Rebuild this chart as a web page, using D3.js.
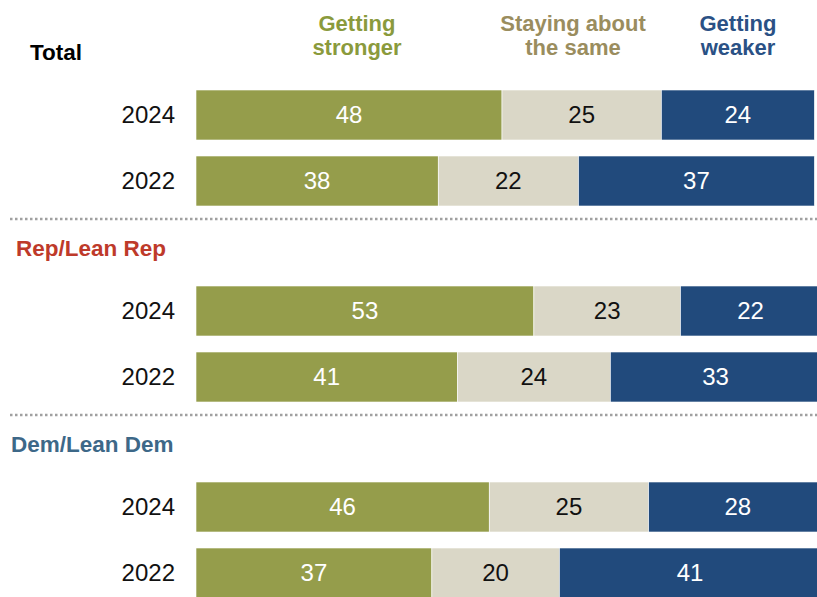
<!DOCTYPE html>
<html>
<head>
<meta charset="utf-8">
<script src="https://cdn.jsdelivr.net/npm/d3@7"></script>
<style>
  html, body { margin: 0; padding: 0; background: #fff; }
  svg { display: block; }
  text { font-family: "Liberation Sans", Arial, sans-serif; }
</style>
</head>
<body>
<svg id="chart" width="817" height="597"></svg>
<script>
// Groups and survey years
const groups = ["Total", "Rep/Lean Rep", "Dem/Lean Dem"];
const years = ["2024", "2022"];

// Response categories (stack order left to right)
const categories = ["Getting stronger", "Staying about the same", "Getting weaker"];
const categoryHeaders = [["Getting", "stronger"], ["Staying about", "the same"], ["Getting", "weaker"]];

// Percentages per group, per year: [stronger, same, weaker]
const totalValues = [[48, 25, 24], [38, 22, 37]];
const repValues = [[53, 23, 22], [41, 24, 33]];
const demValues = [[46, 25, 28], [37, 20, 41]];

const groupValues = [totalValues, repValues, demValues];
const groupColors = ["#000000", "#be3a2a", "#3d6888"];
const fillColors = ["#959d4b", "#dad7c7", "#214a7c"];
const headerColors = ["#8a9a3c", "#9a8d5e", "#2a5185"];
const valueTextColors = ["#ffffff", "#111111", "#ffffff"];

const svg = d3.select("#chart");

const x = d3.scaleLinear().domain([0, 100]).range([196, 196 + 637.5]);
const gy = d3.scalePoint().domain(groups).range([90, 90 + 2 * 196]);
const yy = d3.scaleBand().domain(years).range([0, 116]).paddingInner(0.2424).paddingOuter(0);

// Column headers over the stacked segments
const headerCenters = [357, 573, 738];
categoryHeaders.forEach((lines, i) => {
  const t = svg.append("text")
    .attr("x", headerCenters[i])
    .attr("y", 31)
    .attr("text-anchor", "middle")
    .attr("fill", headerColors[i])
    .style("font-size", "22px")
    .style("font-weight", "bold");
  lines.forEach((ln, j) => {
    t.append("tspan").attr("x", headerCenters[i]).attr("dy", j === 0 ? 0 : 24).text(ln);
  });
});

groups.forEach((g, gi) => {
  const top = gy(g);
  const gSel = svg.append("g");

  // Group title
  gSel.append("text")
    .attr("x", gi === 0 ? 30 : (gi === 1 ? 16 : 11))
    .attr("y", top - 30)
    .attr("fill", groupColors[gi])
    .style("font-size", "22.5px")
    .style("font-weight", "bold")
    .text(g);

  // Dotted separator above non-first groups
  if (gi > 0) {
    gSel.append("line")
      .attr("x1", 10).attr("x2", 817)
      .attr("y1", top - 67).attr("y2", top - 67)
      .attr("stroke", "#a0a0a0")
      .attr("stroke-width", 2.5)
      .attr("stroke-dasharray", "2.5,2.5");
  }

  years.forEach((yr, yi) => {
    const vals = groupValues[gi][yi];
    const y0 = top + yy(yr);
    const bh = yy.bandwidth();

    gSel.append("text")
      .attr("x", 175)
      .attr("y", y0 + bh / 2)
      .attr("dy", "0.35em")
      .attr("text-anchor", "end")
      .attr("fill", "#111")
      .style("font-size", "24px")
      .text(yr);

    let cum = 0;
    vals.forEach((v, ci) => {
      const x0 = x(cum), x1 = x(cum + v);
      gSel.append("rect")
        .attr("x", x0).attr("y", y0)
        .attr("width", x1 - x0).attr("height", bh)
        .attr("fill", fillColors[ci])
        .attr("stroke", "#ffffff")
        .attr("stroke-width", 0.6);
      gSel.append("text")
        .attr("x", (x0 + x1) / 2)
        .attr("y", y0 + bh / 2)
        .attr("dy", "0.35em")
        .attr("text-anchor", "middle")
        .attr("fill", valueTextColors[ci])
        .style("font-size", "24px")
        .text(v);
      cum += v;
    });
  });
});
</script>
</body>
</html>
